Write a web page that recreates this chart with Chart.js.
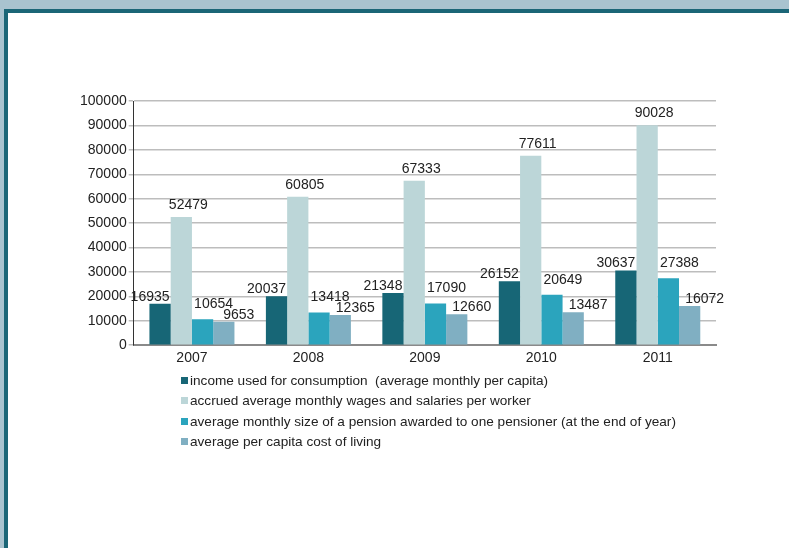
<!DOCTYPE html>
<html>
<head>
<meta charset="utf-8">
<script src="https://cdn.jsdelivr.net/npm/chart.js@4"></script>
<style>
  html, body { margin: 0; padding: 0; }
  body { width: 789px; height: 548px; background: #a9c3cf; position: relative; overflow: hidden; font-family: "Liberation Sans", Arial, sans-serif; }
  #frame { position: absolute; left: 4px; top: 9px; right: 0; bottom: 0; background: #fff; border-top: 4px solid #1b6677; border-left: 4px solid #1b6677; }
  #chart { position: absolute; left: 0; top: 0; }
  #legend { position: absolute; left: 181px; top: 371px; font-size: 13.6px; color: #222; }
  #legend div { height: 20.4px; line-height: 20px; white-space: pre; }
  #legend span { display: inline-block; width: 7px; height: 7px; margin-right: 2px; vertical-align: 1px; }
</style>
</head>
<body>
<div id="frame"></div>
<canvas id="chart" width="789" height="548"></canvas>
<div id="legend"></div>
<script>
const years = ['2007', '2008', '2009', '2010', '2011'];
const seriesNames = [
  'income used for consumption  (average monthly per capita)',
  'accrued average monthly wages and salaries per worker',
  'average monthly size of a pension awarded to one pensioner (at the end of year)',
  'average per capita cost of living',
];
const income = [16935, 20037, 21348, 26152, 30637];
const wages = [52479, 60805, 67333, 77611, 90028];
const pension = [10654, 13418, 17090, 20649, 27388];
const costOfLiving = [9653, 12365, 12660, 13487, 16072];
const colors = ['#176676', '#bcd6d8', '#2ba4bd', '#80afc2'];

// label placement, per series (like the source sheet)
const labelDx = [-10, 7, 11, 15];
const labelGap = [3, 8, 11, 3];

const valueLabels = {
  id: 'valueLabels',
  afterDatasetsDraw(chart) {
    const ctx = chart.ctx;
    ctx.save();
    ctx.font = '14px "Liberation Sans", Arial, sans-serif';
    ctx.fillStyle = '#222';
    ctx.textAlign = 'center';
    ctx.textBaseline = 'alphabetic';
    chart.data.datasets.forEach((ds, i) => {
      chart.getDatasetMeta(i).data.forEach((bar, j) => {
        ctx.fillText(String(ds.data[j]), bar.x + labelDx[i], bar.y - labelGap[i]);
      });
    });
    ctx.restore();
  },
};

const tickFont = { family: '"Liberation Sans", Arial, sans-serif', size: 14 };

const chart = new Chart(document.getElementById('chart'), {
  type: 'bar',
  data: {
    labels: years,
    datasets: [income, wages, pension, costOfLiving].map((d, i) => ({
      label: seriesNames[i],
      data: d,
      backgroundColor: colors[i],
      categoryPercentage: 0.73,
      barPercentage: 1,
    })),
  },
  options: {
    responsive: false,
    animation: false,
    layout: { padding: { top: 101, left: 78, right: 73, bottom: 176 } },
    plugins: { legend: { display: false }, tooltip: { enabled: false } },
    scales: {
      x: {
        grid: { display: false, drawTicks: false },
        border: { color: '#8a8a8a', width: 2 },
        ticks: { color: '#222', font: tickFont, padding: 5 },
      },
      y: {
        min: 0,
        max: 100000,
        ticks: { stepSize: 10000, color: '#222', font: tickFont, padding: 2, callback: v => String(v) },
        grid: { color: '#bdbdbd', lineWidth: 1.5, tickLength: 5 },
        border: { color: '#333', width: 1 },
      },
    },
  },
  plugins: [valueLabels],
});

const legend = document.getElementById('legend');
chart.data.datasets.forEach(ds => {
  const row = document.createElement('div');
  const box = document.createElement('span');
  box.style.background = ds.backgroundColor;
  row.appendChild(box);
  row.appendChild(document.createTextNode(ds.label));
  legend.appendChild(row);
});
</script>
</body>
</html>
